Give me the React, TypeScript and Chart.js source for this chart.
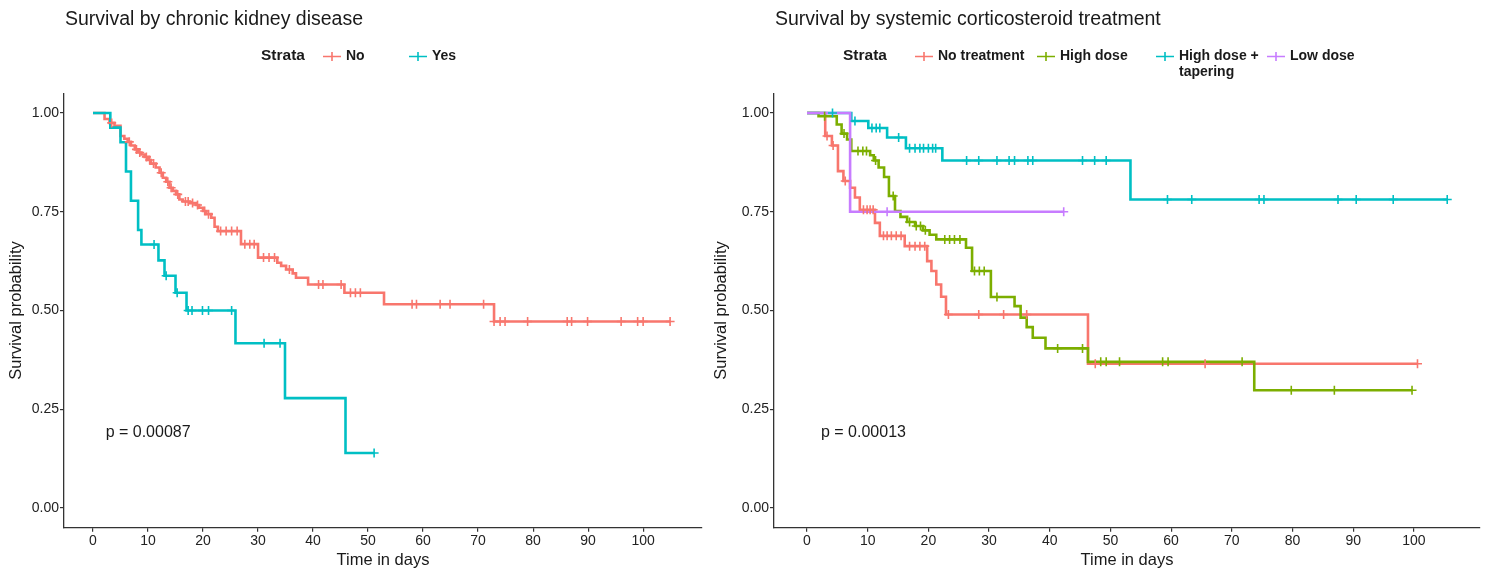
import { useEffect, useRef } from "react"
import { Chart, registerables } from "chart.js"

Chart.register(...registerables)

const FONT = '"Liberation Sans", Arial, Helvetica, sans-serif'
const INK = "#1a1a1a"
const AXIS = "#333333"

// ---- Survival by chronic kidney disease ----
const ckdNoTimes = [0, 2.1, 3.0, 3.9, 5.0, 5.7, 6.3, 6.9, 7.6, 8.2, 8.8, 9.4, 10.0, 10.5, 11.4, 12.1, 12.7, 13.3, 13.9, 14.5, 15.1, 15.7, 16.3, 17.6, 18.7, 19.3, 20.0, 20.6, 21.5, 22.1, 22.7, 26.9, 30.0, 33.5, 34.2, 35.1, 36.3, 36.9, 39.1, 45.7, 52.9, 72.9, 104.9]
const ckdNoSurv = [1, 0.985, 0.975, 0.968, 0.942, 0.935, 0.927, 0.918, 0.908, 0.9, 0.895, 0.889, 0.881, 0.872, 0.862, 0.849, 0.836, 0.826, 0.811, 0.803, 0.794, 0.781, 0.776, 0.772, 0.767, 0.76, 0.752, 0.744, 0.735, 0.712, 0.701, 0.668, 0.634, 0.621, 0.613, 0.604, 0.594, 0.583, 0.566, 0.545, 0.516, 0.472, 0.472]
const ckdNoCensor = [3.4, 6.6, 7.9, 8.5, 9.7, 10.3, 11.0, 12.4, 13.6, 14.2, 15.4, 16.8, 17.3, 18.1, 19.0, 20.3, 21.0, 23.2, 24.2, 25.2, 26.2, 27.6, 28.5, 29.3, 31.0, 32.0, 33.0, 35.7, 41.0, 41.8, 45.1, 46.8, 47.7, 48.6, 58.0, 58.8, 63.1, 64.9, 71.0, 72.9, 74.0, 74.9, 79.0, 86.2, 87.0, 89.9, 96.0, 99.0, 100.0, 104.9]

const ckdYesTimes = [0, 3.15, 5.0, 6.0, 6.9, 8.2, 8.8, 11.9, 13.0, 15.0, 17.0, 25.9, 34.9, 45.9, 51.1]
const ckdYesSurv = [1, 0.963, 0.926, 0.852, 0.778, 0.704, 0.667, 0.627, 0.588, 0.545, 0.5, 0.417, 0.278, 0.139, 0.139]
const ckdYesCensor = [11.1, 13.3, 15.3, 17.3, 18.0, 19.9, 21.0, 25.2, 31.1, 34.0, 51.1]

// ---- Survival by systemic corticosteroid treatment ----
const noTreatTimes = [0, 3.0, 4.1, 5.1, 6.0, 7.1, 7.9, 8.7, 11.2, 12.0, 16.1, 19.8, 20.5, 21.3, 22.1, 22.9, 46.3, 100.6]
const noTreatSurv = [1, 0.942, 0.918, 0.853, 0.828, 0.811, 0.786, 0.755, 0.722, 0.689, 0.663, 0.625, 0.6, 0.566, 0.535, 0.49, 0.365, 0.365]
const noTreatCensor = [3.3, 4.3, 6.3, 9.3, 9.9, 10.4, 10.9, 12.6, 13.2, 13.9, 14.7, 15.5, 16.9, 17.8, 18.6, 19.4, 23.3, 28.3, 32.4, 36.2, 47.5, 65.6, 100.6]

const highTimes = [0, 1.9, 4.9, 5.7, 6.6, 7.3, 10.4, 11.0, 11.8, 12.7, 13.5, 14.5, 15.4, 16.5, 17.8, 19.1, 20.2, 21.3, 26.2, 27.2, 30.3, 34.2, 35.2, 36.2, 37.2, 39.3, 46.3, 73.7, 99.7]
const highSurv = [1, 0.992, 0.971, 0.948, 0.933, 0.904, 0.893, 0.88, 0.862, 0.838, 0.79, 0.752, 0.737, 0.724, 0.714, 0.703, 0.692, 0.68, 0.659, 0.6, 0.534, 0.511, 0.482, 0.458, 0.431, 0.404, 0.37, 0.298, 0.298]
const highCensor = [2.9, 6.1, 8.4, 9.2, 9.8, 11.3, 14.2, 16.9, 18.0, 18.7, 19.5, 22.7, 23.5, 24.3, 25.2, 27.6, 28.4, 29.2, 31.3, 41.3, 45.4, 48.4, 49.3, 51.5, 58.6, 59.5, 71.7, 79.8, 86.9, 99.7]

const taperTimes = [0, 7.3, 10.1, 13.2, 16.3, 22.3, 53.3, 105.5]
const taperSurv = [1, 0.98, 0.962, 0.938, 0.911, 0.88, 0.781, 0.781]
const taperCensor = [4.2, 7.9, 10.7, 11.4, 12.0, 15.1, 16.9, 17.8, 18.6, 19.2, 20.0, 20.7, 21.2, 26.3, 28.3, 31.3, 33.3, 34.2, 36.4, 37.2, 45.4, 47.4, 49.3, 59.4, 63.4, 74.5, 75.3, 87.5, 90.5, 96.6, 105.5]

const lowTimes = [0, 7.1, 42.3]
const lowSurv = [1, 0.75, 0.75]
const lowCensor = [13.2, 42.3]

const xTicks = [0, 10, 20, 30, 40, 50, 60, 70, 80, 90, 100]
const yTicks = [0, 0.25, 0.5, 0.75, 1]

type Stratum = { label: string[]; color: string; times: number[]; surv: number[]; censor: number[] }

type PanelProps = {
  width: number
  title: string
  pval: string
  strata: Stratum[]
  xMin: number
  xMax: number
  yAxisWidth: number
  yTitlePad: number
  padRight: number
  legendX: number
  itemX: number[]
}

function stepAt(times: number[], surv: number[], t: number) {
  let v = surv[0]
  for (let i = 0; i < times.length; i++) {
    if (times[i] <= t) v = surv[i]
  }
  return v
}

function makeTextPlugin(p: PanelProps) {
  return {
    id: "panelText",
    afterDraw(chart: Chart) {
      const { ctx, chartArea, scales } = chart
      ctx.save()
      ctx.fillStyle = INK
      ctx.textAlign = "left"
      ctx.textBaseline = "alphabetic"
      ctx.font = `19.5px ${FONT}`
      ctx.fillText(p.title, chartArea.left + 1, 25)

      // legend
      const ly = 55.5
      ctx.textBaseline = "middle"
      ctx.font = `bold 15.5px ${FONT}`
      ctx.fillText("Strata", p.legendX, ly)
      ctx.font = `bold 14px ${FONT}`
      p.strata.forEach((s, i) => {
        const gx = p.itemX[i]
        ctx.strokeStyle = s.color
        ctx.lineWidth = 1.6
        ctx.beginPath()
        ctx.moveTo(gx, ly + 1)
        ctx.lineTo(gx + 18, ly + 1)
        ctx.moveTo(gx + 9, ly - 3.5)
        ctx.lineTo(gx + 9, ly + 5.5)
        ctx.stroke()
        ctx.fillStyle = INK
        s.label.forEach((line, j) => ctx.fillText(line, gx + 23, ly + 0.5 + j * 16))
      })

      // p-value
      ctx.font = `16px ${FONT}`
      ctx.fillText(p.pval, scales.x.getPixelForValue(2.3), scales.y.getPixelForValue(0.19))
      ctx.restore()
    },
  }
}

function KmPanel(p: PanelProps) {
  const canvasRef = useRef<HTMLCanvasElement>(null)

  useEffect(() => {
    const ctx = canvasRef.current?.getContext("2d")
    if (!ctx) return
    const n = p.strata.length

    const lines = p.strata.map((s, i) => ({
      label: s.label.join(" "),
      data: s.times.map((t, k) => ({ x: t, y: s.surv[k] })),
      stepped: true,
      borderColor: s.color,
      backgroundColor: s.color,
      borderWidth: 2.6,
      pointRadius: 0,
      fill: false,
      order: 20 + n - i,
    }))
    const censors = p.strata.map((s, i) => ({
      label: s.label.join(" ") + " censored",
      data: s.censor.map((t) => ({ x: t, y: stepAt(s.times, s.surv, t) })),
      showLine: false,
      pointStyle: "cross",
      pointRadius: 4.5,
      pointBorderWidth: 1.6,
      borderColor: s.color,
      backgroundColor: s.color,
      order: n - i,
    }))

    const tickFont = { family: FONT, size: 14 }
    const titleFont = { family: FONT, size: 16.5 }
    const grid = { display: true, drawOnChartArea: false, drawTicks: true, tickLength: 4, color: AXIS, lineWidth: 1.2 }
    const border = { display: true, color: AXIS, width: 1.3 }

    const chart = new Chart(ctx, {
      type: "line",
      data: { datasets: [...lines, ...censors] as any },
      options: {
        responsive: false,
        animation: false,
        events: [],
        layout: { autoPadding: false, padding: { top: 93.3, left: 0, right: p.padRight, bottom: 0 } },
        plugins: { legend: { display: false }, tooltip: { enabled: false }, title: { display: false } },
        scales: {
          x: {
            type: "linear",
            min: p.xMin,
            max: p.xMax,
            afterBuildTicks: (s: any) => {
              s.ticks = xTicks.map((v) => ({ value: v }))
            },
            afterFit: (s: any) => {
              s.height = 45.3
              s.paddingLeft = 0
              s.paddingRight = 0
            },
            ticks: { font: tickFont, color: "#222", padding: 1, maxRotation: 0, autoSkip: false },
            grid,
            border,
            title: { display: true, text: "Time in days", font: titleFont, color: INK, padding: { top: 0, bottom: 3 } },
          },
          y: {
            type: "linear",
            min: -0.05,
            max: 1.05,
            afterBuildTicks: (s: any) => {
              s.ticks = yTicks.map((v) => ({ value: v }))
            },
            afterFit: (s: any) => {
              s.width = p.yAxisWidth
              s.paddingTop = 0
              s.paddingBottom = 0
            },
            ticks: { font: tickFont, color: "#222", padding: 1, callback: (v: any) => Number(v).toFixed(2) },
            grid,
            border,
            title: { display: true, text: "Survival probability", font: titleFont, color: INK, padding: { top: p.yTitlePad, bottom: 0 } },
          },
        },
      },
      plugins: [makeTextPlugin(p)],
    })

    return () => chart.destroy()
  }, [])

  return <canvas ref={canvasRef} width={p.width} height={573} style={{ display: "block", width: p.width, height: 573 }} />
}

export default function App() {
  const ckdStrata: Stratum[] = [
    { label: ["No"], color: "#F8766D", times: ckdNoTimes, surv: ckdNoSurv, censor: ckdNoCensor },
    { label: ["Yes"], color: "#00BFC4", times: ckdYesTimes, surv: ckdYesSurv, censor: ckdYesCensor },
  ]
  const steroidStrata: Stratum[] = [
    { label: ["No treatment"], color: "#F8766D", times: noTreatTimes, surv: noTreatSurv, censor: noTreatCensor },
    { label: ["High dose"], color: "#7CAE00", times: highTimes, surv: highSurv, censor: highCensor },
    { label: ["High dose +", "tapering"], color: "#00BFC4", times: taperTimes, surv: taperSurv, censor: taperCensor },
    { label: ["Low dose"], color: "#C77CFF", times: lowTimes, surv: lowSurv, censor: lowCensor },
  ]

  return (
    <div style={{ position: "absolute", left: 0, top: 0, width: 1491, height: 573, background: "#fff" }}>
      <div style={{ position: "absolute", left: 0, top: 0 }}>
        <KmPanel
          width={704}
          title="Survival by chronic kidney disease"
          pval="p = 0.00087"
          strata={ckdStrata}
          xMin={-5.27}
          xMax={110.7}
          yAxisWidth={64}
          yTitlePad={7}
          padRight={2}
          legendX={261}
          itemX={[323, 409]}
        />
      </div>
      <div style={{ position: "absolute", left: 704, top: 0 }}>
        <KmPanel
          width={787}
          title="Survival by systemic corticosteroid treatment"
          pval="p = 0.00013"
          strata={steroidStrata}
          xMin={-5.44}
          xMax={110.9}
          yAxisWidth={70}
          yTitlePad={8}
          padRight={11}
          legendX={139}
          itemX={[211, 333, 452, 563]}
        />
      </div>
    </div>
  )
}
